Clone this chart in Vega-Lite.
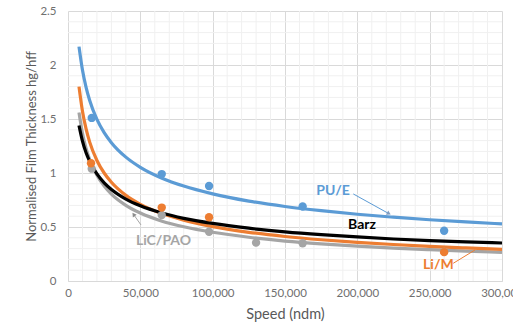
{
  "$schema": "https://vega.github.io/schema/vega-lite/v6.json",
  "width": 434,
  "height": 270,
  "autosize": {"type": "none"},
  "padding": {"left": 68, "top": 11, "right": 11, "bottom": 46},
  "background": "white",
  "config": {"view": {"stroke": null}, "font": "Lato"},
  "datasets": {
    "minorx": [{"gx":10000},{"gx":20000},{"gx":30000},{"gx":40000},{"gx":60000},{"gx":70000},{"gx":80000},{"gx":90000},{"gx":110000},{"gx":120000},{"gx":130000},{"gx":140000},{"gx":160000},{"gx":170000},{"gx":180000},{"gx":190000},{"gx":210000},{"gx":220000},{"gx":230000},{"gx":240000},{"gx":260000},{"gx":270000},{"gx":280000},{"gx":290000}],
    "minory": [{"gy":0.1},{"gy":0.2},{"gy":0.3},{"gy":0.4},{"gy":0.6},{"gy":0.7},{"gy":0.8},{"gy":0.9},{"gy":1.1},{"gy":1.2},{"gy":1.3},{"gy":1.4},{"gy":1.6},{"gy":1.7},{"gy":1.8},{"gy":1.9},{"gy":2.1},{"gy":2.2},{"gy":2.3},{"gy":2.4}],
    "curves": [
      {"s":"PU/E","x":7600,"y":2.17},{"s":"PU/E","x":10000,"y":1.953},{"s":"PU/E","x":12500,"y":1.793},{"s":"PU/E","x":15000,"y":1.671},{"s":"PU/E","x":20000,"y":1.496},{"s":"PU/E","x":25000,"y":1.374},{"s":"PU/E","x":30000,"y":1.281},{"s":"PU/E","x":40000,"y":1.147},{"s":"PU/E","x":50000,"y":1.053},{"s":"PU/E","x":65000,"y":0.952},{"s":"PU/E","x":80000,"y":0.879},{"s":"PU/E","x":100000,"y":0.807},{"s":"PU/E","x":125000,"y":0.74},{"s":"PU/E","x":150000,"y":0.69},{"s":"PU/E","x":175000,"y":0.651},{"s":"PU/E","x":200000,"y":0.618},{"s":"PU/E","x":225000,"y":0.591},{"s":"PU/E","x":250000,"y":0.567},{"s":"PU/E","x":275000,"y":0.547},{"s":"PU/E","x":300000,"y":0.529},
      {"s":"Barz","x":7600,"y":1.44},{"s":"Barz","x":10000,"y":1.295},{"s":"Barz","x":12500,"y":1.188},{"s":"Barz","x":15000,"y":1.108},{"s":"Barz","x":20000,"y":0.991},{"s":"Barz","x":25000,"y":0.909},{"s":"Barz","x":30000,"y":0.848},{"s":"Barz","x":40000,"y":0.759},{"s":"Barz","x":50000,"y":0.696},{"s":"Barz","x":65000,"y":0.629},{"s":"Barz","x":80000,"y":0.58},{"s":"Barz","x":100000,"y":0.533},{"s":"Barz","x":125000,"y":0.489},{"s":"Barz","x":150000,"y":0.455},{"s":"Barz","x":175000,"y":0.429},{"s":"Barz","x":200000,"y":0.408},{"s":"Barz","x":225000,"y":0.389},{"s":"Barz","x":250000,"y":0.374},{"s":"Barz","x":275000,"y":0.362},{"s":"Barz","x":300000,"y":0.352},
      {"s":"Li/M","x":7600,"y":1.8},{"s":"Li/M","x":10000,"y":1.572},{"s":"Li/M","x":12500,"y":1.408},{"s":"Li/M","x":15000,"y":1.286},{"s":"Li/M","x":20000,"y":1.116},{"s":"Li/M","x":25000,"y":1.0},{"s":"Li/M","x":30000,"y":0.914},{"s":"Li/M","x":40000,"y":0.793},{"s":"Li/M","x":50000,"y":0.71},{"s":"Li/M","x":65000,"y":0.624},{"s":"Li/M","x":80000,"y":0.563},{"s":"Li/M","x":100000,"y":0.504},{"s":"Li/M","x":125000,"y":0.451},{"s":"Li/M","x":150000,"y":0.412},{"s":"Li/M","x":175000,"y":0.382},{"s":"Li/M","x":200000,"y":0.358},{"s":"Li/M","x":225000,"y":0.338},{"s":"Li/M","x":250000,"y":0.32},{"s":"Li/M","x":275000,"y":0.306},{"s":"Li/M","x":300000,"y":0.293},
      {"s":"LiC/PAO","x":7600,"y":1.56},{"s":"LiC/PAO","x":10000,"y":1.367},{"s":"LiC/PAO","x":12500,"y":1.227},{"s":"LiC/PAO","x":15000,"y":1.124},{"s":"LiC/PAO","x":20000,"y":0.979},{"s":"LiC/PAO","x":25000,"y":0.879},{"s":"LiC/PAO","x":30000,"y":0.805},{"s":"LiC/PAO","x":40000,"y":0.701},{"s":"LiC/PAO","x":50000,"y":0.629},{"s":"LiC/PAO","x":65000,"y":0.554},{"s":"LiC/PAO","x":80000,"y":0.502},{"s":"LiC/PAO","x":100000,"y":0.451},{"s":"LiC/PAO","x":125000,"y":0.405},{"s":"LiC/PAO","x":150000,"y":0.37},{"s":"LiC/PAO","x":175000,"y":0.344},{"s":"LiC/PAO","x":200000,"y":0.323},{"s":"LiC/PAO","x":225000,"y":0.305},{"s":"LiC/PAO","x":250000,"y":0.29},{"s":"LiC/PAO","x":275000,"y":0.277},{"s":"LiC/PAO","x":300000,"y":0.265}
    ],
    "points": [
      {"s":"LiC/PAO","x":16400,"y":1.04},{"s":"LiC/PAO","x":64800,"y":0.61},{"s":"LiC/PAO","x":97500,"y":0.456},{"s":"LiC/PAO","x":130000,"y":0.355},{"s":"LiC/PAO","x":162200,"y":0.35},{"s":"LiC/PAO","x":260000,"y":0.27},
      {"s":"Li/M","x":15900,"y":1.09},{"s":"Li/M","x":64800,"y":0.68},{"s":"Li/M","x":97500,"y":0.59},{"s":"Li/M","x":260000,"y":0.267},
      {"s":"PU/E","x":16400,"y":1.51},{"s":"PU/E","x":64800,"y":0.99},{"s":"PU/E","x":97500,"y":0.88},{"s":"PU/E","x":162200,"y":0.69},{"s":"PU/E","x":260000,"y":0.465}
    ],
    "labels": [
      {"s":"PU/E","x":183200,"y":0.836},
      {"s":"Barz","x":203200,"y":0.515},
      {"s":"Li/M","x":256000,"y":0.148},
      {"s":"LiC/PAO","x":66000,"y":0.372}
    ],
    "leaders": [
      {"s":"PU/E","x":197200,"y":0.806,"x2":221400,"y2":0.627},
      {"s":"Li/M","x":266300,"y":0.164,"x2":281300,"y2":0.287},
      {"s":"LiC/PAO","x":50460,"y":0.519,"x2":45620,"y2":0.611}
    ]
  },
  "layer": [
    {
      "data": {"name": "minorx"},
      "mark": {"type": "rule", "color": "#f0f0f0", "strokeWidth": 1},
      "encoding": {"x": {"field": "gx", "type": "quantitative", "axis": {"format": ",.0f"}}}
    },
    {
      "data": {"name": "minory"},
      "mark": {"type": "rule", "color": "#f0f0f0", "strokeWidth": 1},
      "encoding": {"y": {"field": "gy", "type": "quantitative", "axis": {"format": "~g"}}}
    },
    {
      "data": {"name": "curves"},
      "transform": [{"filter": "datum.s === 'LiC/PAO'"}],
      "mark": {"type": "line", "strokeWidth": 3.2, "interpolate": "monotone", "color": "#A5A5A5"},
      "encoding": {
        "x": {
          "field": "x", "type": "quantitative",
          "scale": {"domain": [0, 300000], "nice": false},
          "axis": {
            "values": [0,50000,100000,150000,200000,250000,300000],
            "format": ",.0f",
            "gridColor": "#d9d9d9",
            "ticks": false,
            "domainColor": "#d9d9d9",
            "labelColor": "#6f6f6f",
            "labelFontSize": 11.5,
            "labelPadding": 6,
            "labelOverlap": false,
            "labelBound": false,
            "labelFlush": false,
            "title": "Speed (ndm)",
            "titleFontSize": 14.5,
            "titleFontWeight": "normal",
            "titleColor": "#595959",
            "titlePadding": 9
          }
        },
        "y": {
          "field": "y", "type": "quantitative",
          "scale": {"domain": [0, 2.5], "nice": false},
          "axis": {
            "values": [0,0.5,1,1.5,2,2.5],
            "format": "~g",
            "gridColor": "#d9d9d9",
            "ticks": false,
            "domain": false,
            "labelColor": "#6f6f6f",
            "labelFontSize": 11.5,
            "labelPadding": 12,
            "labelOverlap": false,
            "labelBound": false,
            "labelFlush": false,
            "title": "Normalised Film Thickness hg/hff",
            "titleFontSize": 13,
            "titleFontWeight": "normal",
            "titleColor": "#595959",
            "titlePadding": 1
          }
        }
      }
    },
    {
      "data": {"name": "curves"},
      "transform": [{"filter": "datum.s === 'Li/M'"}],
      "mark": {"type": "line", "strokeWidth": 3.2, "interpolate": "monotone", "color": "#ED7D31"},
      "encoding": {"x": {"field": "x", "type": "quantitative"}, "y": {"field": "y", "type": "quantitative"}}
    },
    {
      "data": {"name": "curves"},
      "transform": [{"filter": "datum.s === 'Barz'"}],
      "mark": {"type": "line", "strokeWidth": 3.2, "interpolate": "monotone", "color": "#000000"},
      "encoding": {"x": {"field": "x", "type": "quantitative"}, "y": {"field": "y", "type": "quantitative"}}
    },
    {
      "data": {"name": "curves"},
      "transform": [{"filter": "datum.s === 'PU/E'"}],
      "mark": {"type": "line", "strokeWidth": 3.2, "interpolate": "monotone", "color": "#5B9BD5"},
      "encoding": {"x": {"field": "x", "type": "quantitative"}, "y": {"field": "y", "type": "quantitative"}}
    },
    {
      "data": {"name": "points"},
      "mark": {"type": "circle", "size": 70, "opacity": 1},
      "encoding": {
        "x": {"field": "x", "type": "quantitative"},
        "y": {"field": "y", "type": "quantitative"},
        "color": {"field": "s", "type": "nominal", "scale": {"domain": ["PU/E", "Barz", "Li/M", "LiC/PAO"], "range": ["#5B9BD5", "#000000", "#ED7D31", "#A5A5A5"]}, "legend": null},
        "order": {"field": "s", "sort": "descending"}
      }
    },
    {
      "data": {"name": "leaders"},
      "mark": {"type": "rule", "strokeWidth": 1},
      "encoding": {
        "x": {"field": "x", "type": "quantitative"},
        "y": {"field": "y", "type": "quantitative"},
        "x2": {"field": "x2"},
        "y2": {"field": "y2"},
        "color": {"field": "s", "type": "nominal", "scale": {"domain": ["PU/E", "Barz", "Li/M", "LiC/PAO"], "range": ["#7f9cc0", "#000000", "#c9a68c", "#8c8c8c"]}, "legend": null}
      }
    },
    {
      "data": {"name": "leaders"},
      "transform": [{"filter": "datum.s === 'PU/E'"}],
      "mark": {"type": "point", "shape": "triangle", "filled": true, "size": 22, "angle": 119, "color": "#7f9cc0", "opacity": 1},
      "encoding": {"x": {"field": "x2", "type": "quantitative"}, "y": {"field": "y2", "type": "quantitative"}}
    },
    {
      "data": {"name": "leaders"},
      "transform": [{"filter": "datum.s === 'LiC/PAO'"}],
      "mark": {"type": "point", "shape": "triangle", "filled": true, "size": 22, "angle": 325, "color": "#8c8c8c", "opacity": 1},
      "encoding": {"x": {"field": "x2", "type": "quantitative"}, "y": {"field": "y2", "type": "quantitative"}}
    },
    {
      "data": {"name": "labels"},
      "mark": {"type": "text", "fontSize": 14, "fontWeight": "bold", "align": "center", "baseline": "middle"},
      "encoding": {
        "x": {"field": "x", "type": "quantitative"},
        "y": {"field": "y", "type": "quantitative"},
        "text": {"field": "s"},
        "color": {"field": "s", "type": "nominal", "scale": {"domain": ["PU/E", "Barz", "Li/M", "LiC/PAO"], "range": ["#5B9BD5", "#000000", "#ED7D31", "#8c8c8c"]}, "legend": null}
      }
    }
  ]
}
